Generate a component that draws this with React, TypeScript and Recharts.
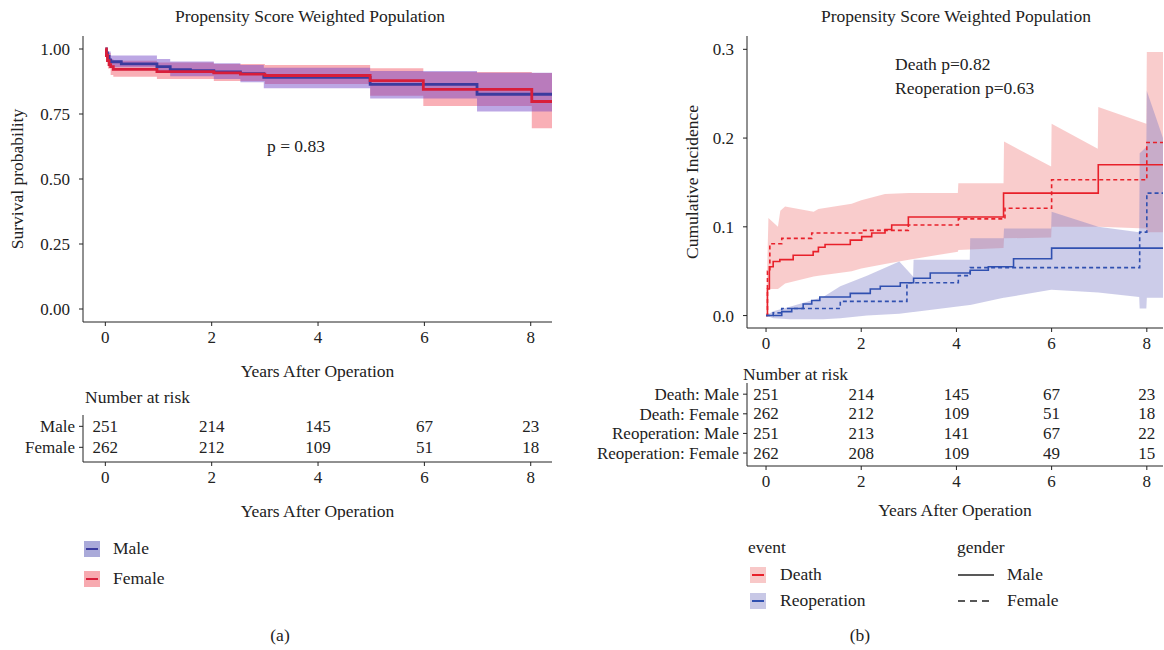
import React from 'react';
import { ComposedChart, Line, Area, XAxis, YAxis, Scatter } from 'recharts';

const FONT = '"Liberation Serif", "DejaVu Serif", serif';
const INK = '#222';

// ---- (a) weighted Kaplan-Meier survival ----
const kmMaleT = [0, 0.02, 0.04, 0.07, 0.1, 0.3, 0.97, 1.22, 1.6, 2.04, 2.54, 2.98, 4.98, 6.99, 8.4];
const kmMaleS = [1, 0.985, 0.972, 0.958, 0.951, 0.943, 0.932, 0.921, 0.917, 0.912, 0.905, 0.891, 0.864, 0.826, 0.826];
const kmFemaleT = [0, 0.02, 0.04, 0.07, 0.1, 0.15, 0.97, 2.04, 2.54, 3.0, 4.98, 5.98, 8.02, 8.4];
const kmFemaleS = [1, 0.975, 0.955, 0.94, 0.932, 0.922, 0.913, 0.908, 0.903, 0.898, 0.878, 0.845, 0.798, 0.798];

const ciMaleT = [0, 0.02, 0.05, 0.1, 0.97, 1.22, 2.04, 2.54, 2.98, 4.98, 6.99, 8.4];
const ciMaleLo = [1, 0.975, 0.945, 0.93, 0.91, 0.895, 0.885, 0.872, 0.849, 0.81, 0.76, 0.76];
const ciMaleHi = [1, 0.995, 0.99, 0.975, 0.962, 0.952, 0.945, 0.938, 0.928, 0.915, 0.909, 0.909];
const ciFemaleT = [0, 0.02, 0.05, 0.1, 0.15, 0.97, 2.04, 3.0, 4.98, 5.98, 8.02, 8.4];
const ciFemaleLo = [1, 0.955, 0.925, 0.9, 0.893, 0.885, 0.877, 0.865, 0.82, 0.781, 0.695, 0.695];
const ciFemaleHi = [1, 0.995, 0.985, 0.962, 0.955, 0.948, 0.942, 0.938, 0.926, 0.912, 0.908, 0.908];

// ---- (b) cumulative incidence ----
const deathMaleT = [0, 0.03, 0.07, 0.15, 0.29, 0.57, 0.99, 1.1, 1.24, 1.77, 2.01, 2.22, 2.5, 2.64, 2.99, 4.99, 6.98, 8.34];
const deathMaleV = [0, 0.03, 0.055, 0.061, 0.063, 0.068, 0.072, 0.077, 0.08, 0.085, 0.089, 0.093, 0.097, 0.102, 0.111, 0.138, 0.17, 0.17];
const deathFemaleT = [0, 0.03, 0.08, 0.33, 0.96, 2.01, 2.99, 4.04, 5.02, 6.0, 8.0, 8.34];
const deathFemaleV = [0, 0.05, 0.081, 0.087, 0.093, 0.096, 0.102, 0.109, 0.121, 0.153, 0.195, 0.195];
const reopMaleT = [0, 0.33, 0.54, 0.78, 0.96, 1.13, 1.77, 2.19, 2.4, 2.82, 3.1, 3.45, 4.29, 4.67, 5.2, 6.0, 8.34];
const reopMaleV = [0, 0.0045, 0.008, 0.013, 0.017, 0.021, 0.025, 0.03, 0.033, 0.037, 0.042, 0.048, 0.051, 0.055, 0.064, 0.076, 0.076];
const reopFemaleT = [0, 0.15, 0.33, 1.56, 2.96, 4.04, 4.29, 7.85, 8.0, 8.34];
const reopFemaleV = [0, 0.003, 0.008, 0.016, 0.037, 0.045, 0.054, 0.094, 0.138, 0.138];

const deathBandT = [0, 0.05, 0.25, 0.3, 0.4, 1.0, 1.1, 1.8, 2.0, 2.5, 3.0, 4.03, 4.04, 4.99, 5.0, 5.99, 6.0, 6.97, 6.98, 7.99, 8.0, 8.34];
const deathBandLo = [0, 0.03, 0.03, 0.032, 0.036, 0.044, 0.045, 0.05, 0.053, 0.058, 0.063, 0.072, 0.074, 0.076, 0.087, 0.088, 0.1, 0.1, 0.1, 0.098, 0.094, 0.094];
const deathBandHi = [0, 0.11, 0.1, 0.118, 0.123, 0.117, 0.12, 0.126, 0.13, 0.137, 0.138, 0.138, 0.149, 0.149, 0.196, 0.168, 0.216, 0.188, 0.235, 0.216, 0.297, 0.297];
const reopBandT = [0, 0.15, 0.5, 1.2, 1.56, 2.12, 2.8, 3.09, 3.1, 4.28, 4.29, 4.99, 5.0, 5.99, 6.0, 6.98, 7.84, 7.85, 7.99, 8.0, 8.34];
const reopBandLo = [0, -0.003, -0.004, -0.004, -0.003, 0, 0.002, 0.004, 0.004, 0.012, 0.012, 0.02, 0.02, 0.029, 0.029, 0.026, 0.021, 0.008, 0.008, 0.02, 0.02];
const reopBandHi = [0, 0.005, 0.01, 0.021, 0.033, 0.045, 0.061, 0.044, 0.063, 0.063, 0.087, 0.087, 0.098, 0.098, 0.117, 0.1, 0.094, 0.183, 0.19, 0.253, 0.2];

// ---- numbers at risk ----
const riskYears = [0, 2, 4, 6, 8];
const riskMale = [251, 214, 145, 67, 23];
const riskFemale = [262, 212, 109, 51, 18];
const riskDeathMale = [251, 214, 145, 67, 23];
const riskDeathFemale = [262, 212, 109, 51, 18];
const riskReopMale = [251, 213, 141, 67, 22];
const riskReopFemale = [262, 208, 109, 49, 15];

const steps = (t: number[], v: number[]) => t.map((x, i) => ({ t: x, v: v[i] }));
const band = (t: number[], lo: number[], hi: number[]) => t.map((x, i) => ({ t: x, r: [lo[i], hi[i]] }));

const tickStyle = { fill: INK, fontSize: 17, fontFamily: FONT };

const Txt = ({ x, y, a = 'start', size = 17, children }: any) => (
  <div
    style={{
      position: 'absolute',
      left: x,
      top: y,
      transform: `translate(${a === 'middle' ? '-50%' : a === 'end' ? '-100%' : '0'}, -50%)`,
      whiteSpace: 'nowrap',
      fontSize: size,
      fontFamily: FONT,
      color: INK,
      lineHeight: 1,
    }}
  >
    {children}
  </div>
);

const CountText = (p: any) => (
  <text x={p.cx} y={p.cy} textAnchor="middle" dominantBaseline="central" fontSize={17} fontFamily={FONT} fill={INK}>
    {p.payload.n}
  </text>
);

function RiskTable({ rows, width, height, margin, yWidth, domain, yDomain, rowGap }: any) {
  // rows listed top to bottom; row index 1 is the bottom one
  const n = rows.length;
  const pts = rows.flatMap((r: any, i: number) =>
    riskYears.map((t, j) => ({ t, row: n - i, n: r.counts[j] }))
  );
  const labels = rows.map((r: any) => r.label);
  return (
    <ComposedChart width={width} height={height} margin={margin}>
      <XAxis
        type="number"
        dataKey="t"
        domain={domain}
        ticks={riskYears}
        interval={0}
        allowDataOverflow
        tickSize={4}
        tickMargin={5}
        stroke={INK}
        tick={tickStyle}
        height={rowGap}
        label={{ value: 'Years After Operation', position: 'insideBottom', offset: 0, style: { fontSize: 17.5, fontFamily: FONT, fill: INK } }}
      />
      <YAxis
        type="number"
        dataKey="row"
        domain={yDomain}
        ticks={rows.map((_: any, i: number) => n - i)}
        interval={0}
        tickFormatter={(v: number) => labels[n - v]}
        allowDataOverflow
        tickSize={4}
        tickMargin={4}
        stroke={INK}
        tick={tickStyle}
        width={yWidth}
      />
      <Scatter data={pts} shape={CountText} isAnimationActive={false} />
    </ComposedChart>
  );
}

const LegendKey = ({ x, y, fill, line }: any) => (
  <div style={{ position: 'absolute', left: x, top: y - 8, width: 16, height: 16, background: fill }}>
    <div style={{ position: 'absolute', left: 2, right: 2, top: 7, height: 1.5, background: line }} />
  </div>
);

export default function App() {
  return (
    <div style={{ position: 'absolute', left: 0, top: 0, width: 1164, height: 650, background: '#fff', fontFamily: FONT }}>
      {/* ---------- panel (a) ---------- */}
      <Txt x={310} y={17} a="middle" size={17.5}>Propensity Score Weighted Population</Txt>
      <div style={{ position: 'absolute', left: 0, top: 0 }}>
        <ComposedChart width={560} height={385} margin={{ top: 36, right: 8, bottom: 8, left: 12 }}>
          <XAxis
            type="number"
            dataKey="t"
            domain={[-0.42, 8.4]}
            ticks={[0, 2, 4, 6, 8]}
            interval={0}
            allowDataOverflow
            tickSize={4}
            tickMargin={5}
            stroke={INK}
            tick={tickStyle}
            height={55}
            label={{ value: 'Years After Operation', position: 'insideBottom', offset: 0, style: { fontSize: 17.5, fontFamily: FONT, fill: INK } }}
          />
          <YAxis
            type="number"
            domain={[-0.05, 1.05]}
            ticks={[0, 0.25, 0.5, 0.75, 1]}
            interval={0}
            tickFormatter={(v: number) => v.toFixed(2)}
            allowDataOverflow
            tickSize={4}
            tickMargin={9}
            stroke={INK}
            tick={tickStyle}
            width={71}
            label={{ value: 'Survival probability', angle: -90, position: 'insideLeft', offset: 5, style: { textAnchor: 'middle', fontSize: 17.5, fontFamily: FONT, fill: INK } }}
          />
          <Area data={band(ciFemaleT, ciFemaleLo, ciFemaleHi)} dataKey="r" type="stepAfter" fill="#f04050" fillOpacity={0.42} stroke="none" isAnimationActive={false} />
          <Area data={band(ciMaleT, ciMaleLo, ciMaleHi)} dataKey="r" type="stepAfter" fill="#6a3cc4" fillOpacity={0.45} stroke="none" isAnimationActive={false} />
          <Line data={steps(kmMaleT, kmMaleS)} dataKey="v" type="stepAfter" stroke="#3b3b9e" strokeWidth={2.8} dot={false} activeDot={false} isAnimationActive={false} />
          <Line data={steps(kmFemaleT, kmFemaleS)} dataKey="v" type="stepAfter" stroke="#d81e3a" strokeWidth={2.8} dot={false} activeDot={false} isAnimationActive={false} />
        </ComposedChart>
      </div>
      <Txt x={296} y={147} a="middle" size={17.5}>p = 0.83</Txt>

      <Txt x={85} y={398} size={17.5}>Number at risk</Txt>
      <div style={{ position: 'absolute', left: 0, top: 380 }}>
        <RiskTable
          rows={[
            { label: 'Male', counts: riskMale },
            { label: 'Female', counts: riskFemale },
          ]}
          width={560}
          height={140}
          margin={{ top: 35, right: 8, bottom: 3, left: 0 }}
          yWidth={83}
          domain={[-0.42, 8.4]}
          yDomain={[0.3, 2.54]}
          rowGap={55}
        />
      </div>

      <LegendKey x={84} y={549} fill="#aaaad9" line="#3b3b9e" />
      <Txt x={113} y={549} size={17.5}>Male</Txt>
      <LegendKey x={84} y={579} fill="#f7aab0" line="#d81e3a" />
      <Txt x={113} y={579} size={17.5}>Female</Txt>
      <Txt x={280} y={636} a="middle" size={17.5}>(a)</Txt>

      {/* ---------- panel (b) ---------- */}
      <Txt x={956} y={17} a="middle" size={17.5}>Propensity Score Weighted Population</Txt>
      <div style={{ position: 'absolute', left: 620, top: 0 }}>
        <ComposedChart width={544} height={360} margin={{ top: 36, right: 1, bottom: 7, left: 64 }}>
          <XAxis
            type="number"
            dataKey="t"
            domain={[-0.4, 8.34]}
            ticks={[0, 2, 4, 6, 8]}
            interval={0}
            allowDataOverflow
            tickSize={4}
            tickMargin={5}
            stroke={INK}
            tick={tickStyle}
            height={25}
          />
          <YAxis
            type="number"
            domain={[-0.014, 0.315]}
            ticks={[0, 0.1, 0.2, 0.3]}
            interval={0}
            tickFormatter={(v: number) => v.toFixed(1)}
            allowDataOverflow
            tickSize={4}
            tickMargin={9}
            stroke={INK}
            tick={tickStyle}
            width={63}
            label={{ value: 'Cumulative Incidence', angle: -90, position: 'insideLeft', offset: 8, style: { textAnchor: 'middle', fontSize: 17.5, fontFamily: FONT, fill: INK } }}
          />
          <Area data={band(deathBandT, deathBandLo, deathBandHi)} dataKey="r" type="linear" fill="#f08080" fillOpacity={0.4} stroke="none" isAnimationActive={false} />
          <Area data={band(reopBandT, reopBandLo, reopBandHi)} dataKey="r" type="linear" fill="#7878c4" fillOpacity={0.38} stroke="none" isAnimationActive={false} />
          <Line data={steps(deathMaleT, deathMaleV)} dataKey="v" type="stepAfter" stroke="#e8202a" strokeWidth={1.6} dot={false} activeDot={false} isAnimationActive={false} />
          <Line data={steps(deathFemaleT, deathFemaleV)} dataKey="v" type="stepAfter" stroke="#e8202a" strokeWidth={1.6} strokeDasharray="4 3" dot={false} activeDot={false} isAnimationActive={false} />
          <Line data={steps(reopMaleT, reopMaleV)} dataKey="v" type="stepAfter" stroke="#3050b0" strokeWidth={1.6} dot={false} activeDot={false} isAnimationActive={false} />
          <Line data={steps(reopFemaleT, reopFemaleV)} dataKey="v" type="stepAfter" stroke="#3050b0" strokeWidth={1.6} strokeDasharray="4 3" dot={false} activeDot={false} isAnimationActive={false} />
        </ComposedChart>
      </div>
      <Txt x={895} y={65} size={17.5}>Death p=0.82</Txt>
      <Txt x={895} y={89} size={17.5}>Reoperation p=0.63</Txt>

      <Txt x={743} y={375} size={17.5}>Number at risk</Txt>
      <div style={{ position: 'absolute', left: 560, top: 360 }}>
        <RiskTable
          rows={[
            { label: 'Death: Male', counts: riskDeathMale },
            { label: 'Death: Female', counts: riskDeathFemale },
            { label: 'Reoperation: Male', counts: riskReopMale },
            { label: 'Reoperation: Female', counts: riskReopFemale },
          ]}
          width={604}
          height={160}
          margin={{ top: 23, right: 1, bottom: 4, left: 0 }}
          yWidth={187}
          domain={[-0.4, 8.34]}
          yDomain={[0.34, 4.57]}
          rowGap={50}
        />
      </div>

      <Txt x={748} y={548} size={17.5}>event</Txt>
      <LegendKey x={750} y={575} fill="#f8c8c8" line="#e8202a" />
      <Txt x={780} y={575} size={17.5}>Death</Txt>
      <LegendKey x={750} y={601} fill="#c8c8e6" line="#3050b0" />
      <Txt x={780} y={601} size={17.5}>Reoperation</Txt>
      <Txt x={957} y={548} size={17.5}>gender</Txt>
      <svg style={{ position: 'absolute', left: 958, top: 570 }} width={38} height={36}>
        <line x1={0} y1={5} x2={36} y2={5} stroke={INK} strokeWidth={1.5} />
        <line x1={0} y1={31} x2={36} y2={31} stroke={INK} strokeWidth={1.5} strokeDasharray="7 5" />
      </svg>
      <Txt x={1007} y={575} size={17.5}>Male</Txt>
      <Txt x={1007} y={601} size={17.5}>Female</Txt>
      <Txt x={860} y={636} a="middle" size={17.5}>(b)</Txt>
    </div>
  );
}
